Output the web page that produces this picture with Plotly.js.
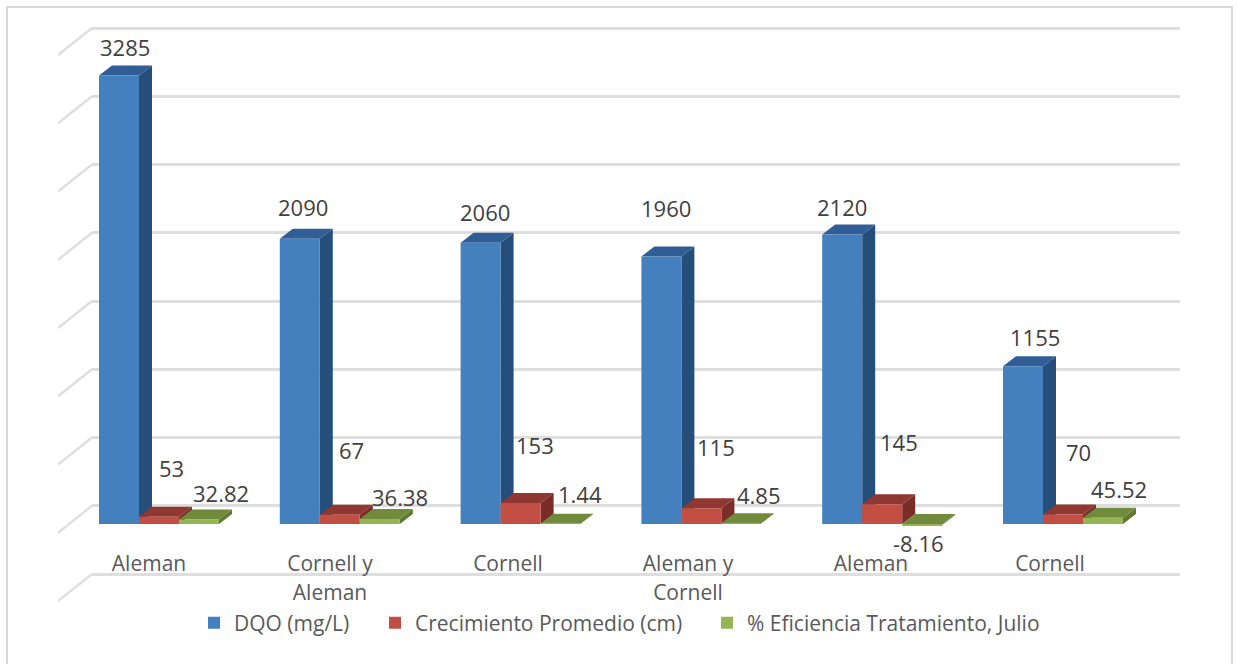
<!DOCTYPE html>
<html>
<head>
<meta charset="utf-8">
<script src="https://cdn.plot.ly/plotly-3.0.1.min.js"></script>
<style>html,body{margin:0;padding:0;background:#fff}</style>
</head>
<body>
<div id="chart" style="width:1238px;height:664px"></div>
<script>
// Series values per treatment
const categories = [["Aleman"], ["Cornell y", "Aleman"], ["Cornell"], ["Aleman y", "Cornell"], ["Aleman"], ["Cornell"]];
const dqo = [3285, 2090, 2060, 1960, 2120, 1155];
const crecimiento = [53, 67, 153, 115, 145, 70];
const eficiencia = [32.82, 36.38, 1.44, 4.85, -8.16, 45.52];
const gridValues = [-500, 0, 500, 1000, 1500, 2000, 2500, 3000, 3500];

// Pixel geometry of the pseudo-3D scene
const W = 1238, H = 664;
const FONT = '"Open Sans", sans-serif';
const pxPerUnit = 0.1365;      // vertical scale, px per value unit
const frontZero = 524, backZero = 505.75;
const slotPx = 180.8, firstGroupPx = 159;
const barDepthX = 13 / slotPx, barDepthY = 10 / pxPerUnit;
const barWidth = 40 / slotPx;

const fx = p => (p - firstGroupPx) / slotPx;      // px to front-plane x
const fy = p => (frontZero - p) / pxPerUnit;      // px to front-plane y
const by = p => (backZero - p) / pxPerUnit;       // px to back-wall y
const nx = p => p / W, ny = p => 1 - p / H;       // px to paper fractions

// Where the category captions and value labels sit
const captionCenters = [149, 330, 508, 688, 871, 1050];
const labelNudges = [
  {dx: [6, 3, 4, 5, 0, 12], dy: [28.6, 31.7, 30.8, 48.5, 27.6, 29]},
  {dx: [12, 12, 14, 15, 17, 15], dy: [48.8, 64.9, 58.1, 61.3, 62.2, 62.4]},
  {dx: [22, 20, 19, 18, -4, 16], dy: [26.5, 22, 29.8, 28.3, -17.9, 28.8]}
];

const series = [
  {name: "DQO (mg/L)", values: dqo, front: "#4480BD", top: "#305D95", side: "#264E7A", legendX: 194},
  {name: "Crecimiento Promedio (cm)", values: crecimiento, front: "#C34F44", top: "#8F3731", side: "#7A2D28", legendX: 375},
  {name: "% Eficiencia Tratamiento, Julio", values: eficiencia, front: "#93B553", top: "#6F8B3B", side: "#5F7831", legendX: 707}
];

const traces = [];

// The back wall subplot only carries the horizontal gridlines
traces.push({type: "scatter", mode: "none", x: [0, 6], y: [0, 0], xaxis: "x", yaxis: "y",
  showlegend: false, hoverinfo: "skip"});

// Diagonal wall edges running forward from each back gridline
const diagX = [], diagY = [];
gridValues.forEach(v => {
  const backPx = backZero - v * pxPerUnit;
  diagX.push(fx(58), fx(92), null);
  diagY.push(fy(backPx + 27), fy(backPx), null);
});
traces.push({type: "scatter", mode: "lines", x: diagX, y: diagY, xaxis: "x2", yaxis: "y2",
  line: {color: "#DEDEDE", width: 2.4}, showlegend: false, hoverinfo: "skip"});

// Top and side faces sit under the bar fronts
series.forEach((s, si) => {
  s.values.forEach((v, i) => {
    const xl = i + (si - 1.5) * barWidth, xr = xl + barWidth;
    const hi = Math.max(v, 0), lo = Math.min(v, 0);
    const face = (xs, ys, color) => traces.push({type: "scatter", mode: "lines", x: xs, y: ys,
      xaxis: "x2", yaxis: "y2", fill: "toself", fillcolor: color, line: {width: 0, color: color},
      cliponaxis: false, showlegend: false, hoverinfo: "skip"});
    face([xr, xr + barDepthX, xr + barDepthX, xr, xr],
         [lo, lo + barDepthY, hi + barDepthY, hi, lo], s.side);
    face([xl, xr, xr + barDepthX, xl + barDepthX, xl],
         [hi, hi, hi + barDepthY, hi + barDepthY, hi], s.top);
  });
});

// Bar fronts, one legend per series so each entry can be placed on its own
const xIdx = categories.map((_, i) => i);
series.forEach((s, si) => {
  traces.push({type: "bar", name: s.name, x: xIdx, y: s.values, xaxis: "x3", yaxis: "y3",
    marker: {color: s.front, line: {width: 0}},
    legend: si === 0 ? "legend" : "legend" + (si + 1)});
});

// Value labels
const annotations = [];
series.forEach((s, si) => {
  s.values.forEach((v, i) => {
    annotations.push({xref: "x3", yref: "y3", x: i + (si - 1) * barWidth, y: v, text: String(v),
      showarrow: false, xanchor: "center", yanchor: "middle",
      xshift: labelNudges[si].dx[i], yshift: labelNudges[si].dy[i],
      font: {family: FONT, size: 22, color: "#404040"}});
  });
});

const captionSpan = t => '<span style="font-size:21px">' + t + '</span>';
const legendBase = {orientation: "v", yanchor: "middle", y: ny(623), bgcolor: "rgba(0,0,0,0)",
  font: {family: FONT, size: 21, color: "#595959"}, traceorder: "normal"};
const hidden = {visible: false};

const layout = {
  width: W, height: H, autosize: false,
  margin: {l: 0, r: 0, t: 0, b: 0, pad: 0},
  paper_bgcolor: "#fff", plot_bgcolor: "rgba(0,0,0,0)",
  barmode: "group", bargap: 1 - 3 * barWidth, bargroupgap: 0,
  showlegend: true,
  // back wall
  xaxis: Object.assign({}, hidden, {domain: [nx(92), nx(1180)], range: [0, 6]}),
  yaxis: {domain: [ny(590), ny(18)], range: [by(590), by(18)], tickvals: gridValues,
    showgrid: true, gridcolor: "#DEDEDE", gridwidth: 3, zeroline: false,
    showline: false, ticks: "", showticklabels: false},
  // 3D faces
  xaxis2: Object.assign({}, hidden, {domain: [nx(58), nx(1180)], range: [fx(58), fx(1180)]}),
  yaxis2: Object.assign({}, hidden, {domain: [ny(610), ny(18)], range: [fy(610), fy(18)]}),
  // bar fronts and category captions
  xaxis3: {domain: [nx(58), nx(1180)], range: [fx(58), fx(1180)], anchor: "free", position: ny(548),
    tickmode: "array", tickvals: captionCenters.map(fx),
    ticktext: categories.map(lines => lines.map(captionSpan).join("<br>")),
    showgrid: false, zeroline: false, showline: false, ticks: "", tickangle: 0,
    tickfont: {family: FONT, size: 22, color: "#595959"}},
  yaxis3: Object.assign({}, hidden, {domain: [ny(610), ny(18)], range: [fy(610), fy(18)]}),
  legend: Object.assign({}, legendBase, {x: nx(series[0].legendX)}),
  legend2: Object.assign({}, legendBase, {x: nx(series[1].legendX)}),
  legend3: Object.assign({}, legendBase, {x: nx(series[2].legendX)}),
  annotations: annotations,
  shapes: [{type: "rect", xref: "paper", yref: "paper", x0: nx(7), x1: nx(1232), y0: ny(700), y1: ny(7),
    line: {color: "#D9D9D9", width: 2}, fillcolor: "rgba(0,0,0,0)", layer: "below"}]
};

Plotly.newPlot("chart", traces, layout, {displayModeBar: false, responsive: false});
</script>
</body>
</html>
